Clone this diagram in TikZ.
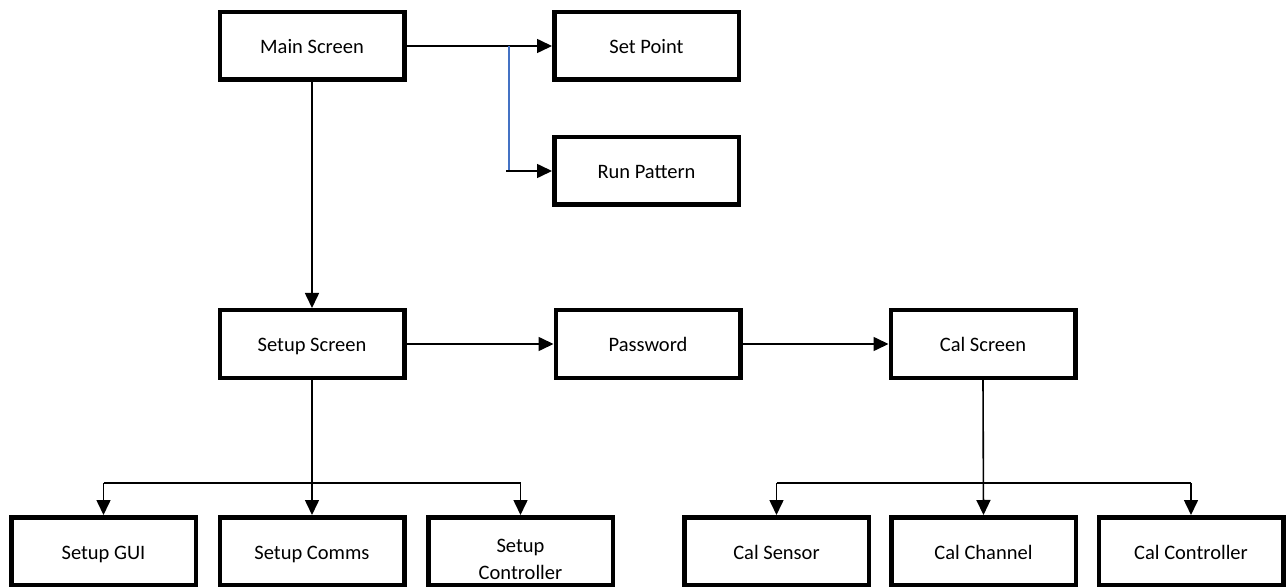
\documentclass[tikz,border=0pt]{standalone}
\usepackage{fontspec}
\setmainfont{Carlito}
\usetikzlibrary{arrows.meta}
\definecolor{linkblue}{RGB}{68,114,196}
\begin{document}
\begin{tikzpicture}[x=1pt,y=-1pt,
  box/.style={draw, line width=4.5pt, minimum width=184.5pt, minimum height=67.5pt, inner sep=0pt, align=center, text height=18pt, text depth=2pt, font=\fontsize{20.5}{24}\selectfont},
  conn/.style={line width=1.6pt, -{Triangle[length=15pt,width=14pt]}},
  plain/.style={line width=1.6pt}]
\useasboundingbox (0,0) rectangle (1286,588);
\clip (0,0) rectangle (1286,588);
\node[box] (main) at (312,46) {Main Screen};
\node[box] (set) at (646.5,46) {Set Point};
\node[box] (run) at (646.5,171) {Run Pattern};
\node[box] (setup) at (312,344) {Setup Screen};
\node[box] (pass) at (648,344) {Password};
\node[box] (cal) at (983,344) {Cal Screen};
\node[box] (gui) at (103.5,551) {Setup GUI};
\node[box] (comms) at (312,551) {Setup Comms};
\node[box, text height=58pt] (ctrl) at (520.5,551) {Setup\\[3pt]Controller};
\node[box] (sens) at (776.5,551) {Cal Sensor};
\node[box] (chan) at (983.5,551) {Cal Channel};
\node[box] (cctrl) at (1191,551) {Cal Controller};
% top branch
\draw[conn] (main.east) -- (set.west);
\coordinate (j) at (509,46);
\coordinate (jr) at (506,171);
\draw[linkblue, line width=1.6pt] (j) -- (j |- run.west);
\draw[conn] (jr) -- (run.west);
% main flow
\draw[conn] (main.south) -- (setup.north);
\draw[conn] (setup.east) -- (pass.west);
\draw[conn] (pass.east) -- (cal.west);
% setup bus
\coordinate (sb) at (312,483);
\draw[plain] (sb -| gui.north) -- (sb -| ctrl.north);
\draw[conn] (setup.south) -- (comms.north);
\draw[conn] (sb -| gui.north) -- (gui.north);
\draw[conn] (sb -| ctrl.north) -- (ctrl.north);
% cal bus
\coordinate (cb) at (983,483);
\draw[plain] (cb -| sens.north) -- (cb -| cctrl.north);
\draw[conn] (cal.south) -- (chan.north);
\draw[conn] (cb -| sens.north) -- (sens.north);
\draw[conn] (cb -| cctrl.north) -- (cctrl.north);
\end{tikzpicture}
\end{document}
